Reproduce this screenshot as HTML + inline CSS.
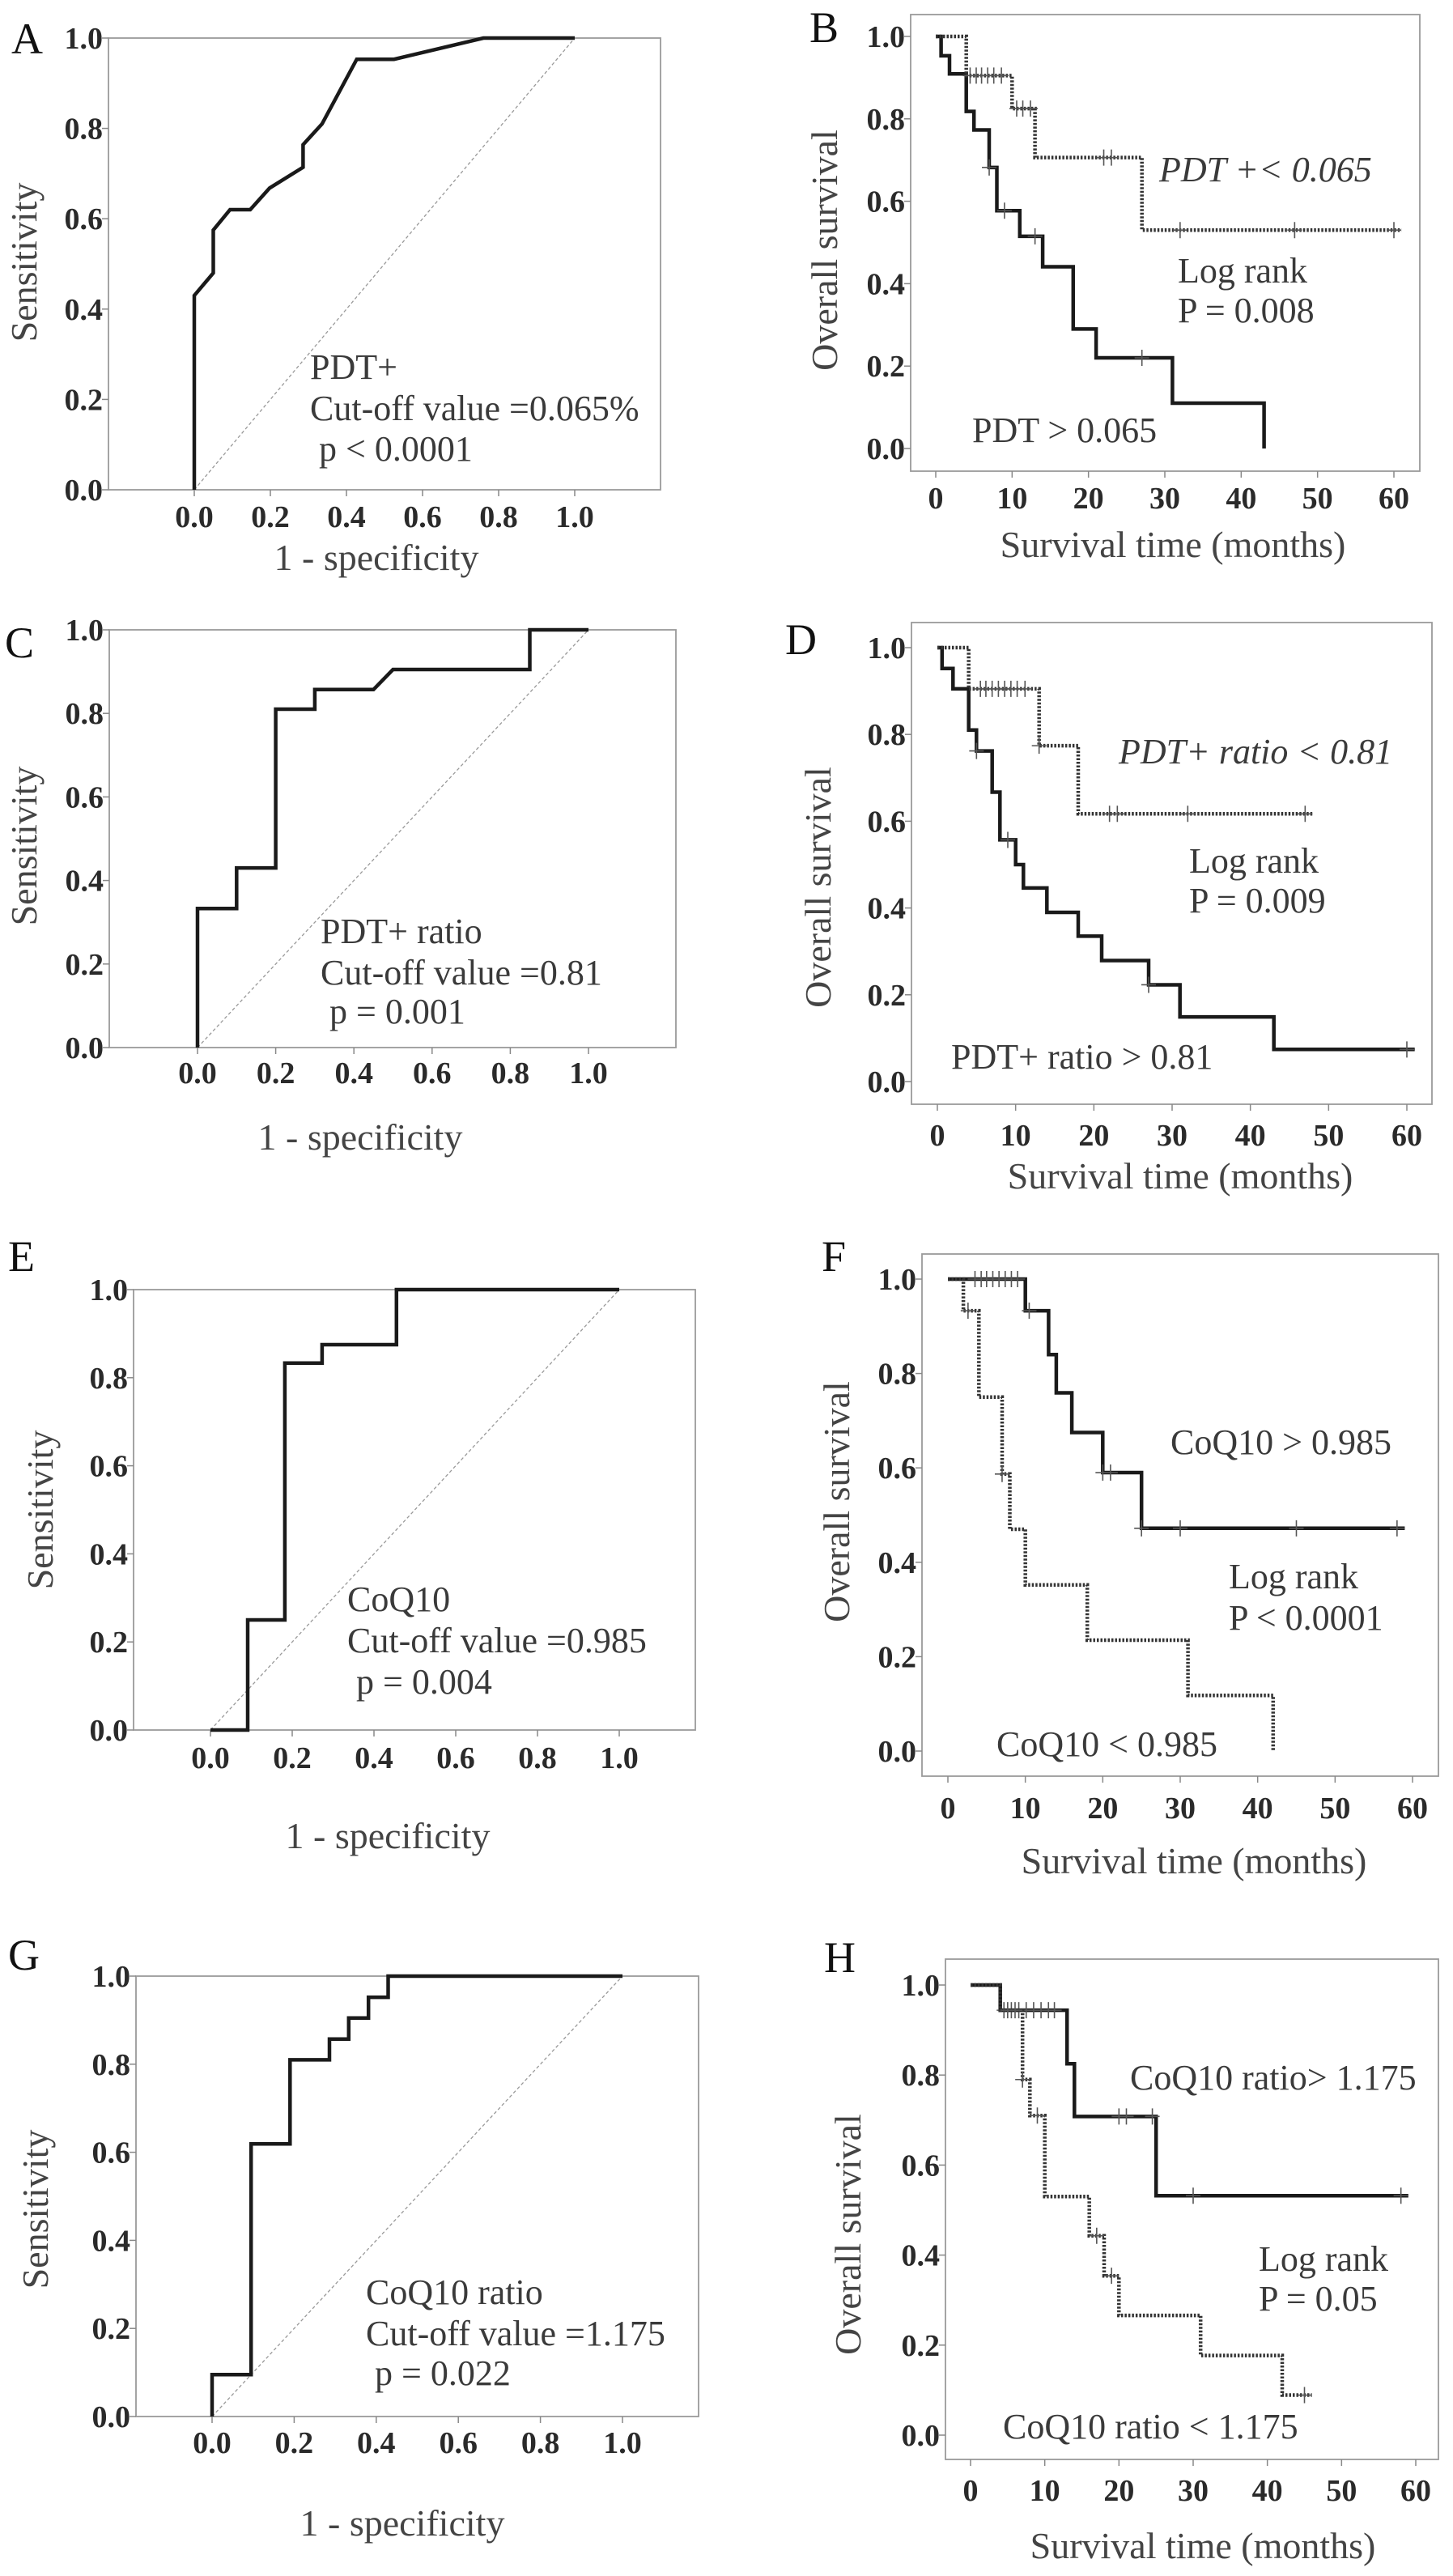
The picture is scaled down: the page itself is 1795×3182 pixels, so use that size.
<!DOCTYPE html>
<html><head><meta charset="utf-8">
<style>
html,body{margin:0;padding:0;background:#fff;}
svg{display:block;}
.tick{font-family:"Liberation Serif",serif;font-weight:bold;font-size:38px;fill:#2a2a2a;}
.ttl{font-family:"Liberation Serif",serif;font-size:46px;fill:#444;}
.ann{font-family:"Liberation Serif",serif;font-size:44px;fill:#3a3a3a;white-space:pre;}
.let{font-family:"Liberation Serif",serif;font-size:54px;fill:#111;}
</style></head>
<body>
<svg id="fig" xmlns="http://www.w3.org/2000/svg" width="1795" height="3182" viewBox="0 0 1795 3182" xml:space="preserve"></svg>
<script>
// ---------- ROC data (1 - specificity, sensitivity) ----------
const rocAX = [0,0,0.05,0.05,0.094,0.147,0.198,0.286,0.286,0.336,0.427,0.525,0.76,1];
const rocAY = [0,0.43,0.48,0.575,0.62,0.62,0.668,0.714,0.764,0.81,0.953,0.953,1,1];
const rocCX = [0,0,0.1,0.1,0.2,0.2,0.3,0.3,0.45,0.5,0.85,0.85,1];
const rocCY = [0,0.333,0.333,0.43,0.43,0.81,0.81,0.857,0.857,0.905,0.905,1,1];
const rocEX = [0,0.091,0.091,0.182,0.182,0.273,0.273,0.455,0.455,1];
const rocEY = [0,0,0.25,0.25,0.833,0.833,0.875,0.875,1,1];
const rocGX = [0,0,0.095,0.095,0.19,0.19,0.286,0.286,0.333,0.333,0.381,0.381,0.429,0.429,1];
const rocGY = [0,0.095,0.095,0.619,0.619,0.81,0.81,0.857,0.857,0.905,0.905,0.952,0.952,1,1];
const rocTicks = ["0.0","0.2","0.4","0.6","0.8","1.0"];
const kmXTicks = ["0","10","20","30","40","50","60"];
// ---------- Kaplan-Meier data: event times, survival after event, censor times, end ----------
const kmBSolidT = [0.7,1.8,4,5,7,8,11,14,18,21,31,43];
const kmBSolidS = [0.953,0.909,0.818,0.773,0.682,0.577,0.515,0.441,0.29,0.22,0.11,0];
const kmBSolidC = [7,9,13,27];
const kmBSolidEnd = 43;
const kmBDotT = [4,10,13,27];
const kmBDotS = [0.905,0.825,0.706,0.53];
const kmBDotC = [4.5,5.3,6,6.8,7.6,8.6,10.6,11.4,12.4,22,23,32,47,60];
const kmBDotEnd = 61;

const kmDSolidT = [0.6,2,4,5,7,8,10,11,14,18,21,27,31,43];
const kmDSolidS = [0.952,0.905,0.81,0.762,0.667,0.557,0.5,0.446,0.39,0.335,0.279,0.223,0.149,0.074];
const kmDSolidC = [5,9,27,60];
const kmDSolidEnd = 61;
const kmDDotT = [4,13,18];
const kmDDotS = [0.905,0.774,0.617];
const kmDDotC = [5.5,6.2,7,7.8,8.6,9.4,10.2,11.2,13,22,23,32,47];
const kmDDotEnd = 48;

const kmFSolidT = [10,13,14,16,20,25];
const kmFSolidS = [0.933,0.84,0.759,0.675,0.59,0.472];
const kmFSolidC = [3.5,4.3,5,5.8,6.6,7.4,8.2,9,10.5,20,21,25,30,45,58];
const kmFSolidEnd = 59;
const kmFDotT = [2,4,7,8,10,18,31,42];
const kmFDotS = [0.933,0.75,0.587,0.47,0.352,0.235,0.118,0];
const kmFDotC = [2.6,7];
const kmFDotEnd = 42;

const kmHSolidT = [4,13,14,25];
const kmHSolidS = [0.944,0.825,0.708,0.532];
const kmHSolidC = [4.5,5.5,6.5,7.5,8.5,9.5,10.5,11.3,20,21,24.5,30,58];
const kmHSolidEnd = 59;
const kmHDotT = [4,7,8,10,16,18,20,31,42];
const kmHDotS = [0.944,0.79,0.71,0.53,0.443,0.354,0.266,0.177,0.089];
const kmHDotC = [5,6,7,9,17,19,45];
const kmHDotEnd = 46;

const NS = "http://www.w3.org/2000/svg";
const svg = document.getElementById("fig");
function mk(tag, attrs, parent){
  const e = document.createElementNS(NS, tag);
  for (const k in attrs) e.setAttribute(k, attrs[k]);
  (parent||svg).appendChild(e);
  return e;
}
function txt(s, x, y, cls, parent, anchor, rot){
  const t = mk("text", {x:x, y:y, class:cls, "text-anchor":anchor||"start"}, parent);
  if (rot) t.setAttribute("transform", "rotate(-90 "+x+" "+y+")");
  t.textContent = s;
  return t;
}

function panelBase(p){
  const g = mk("g", {});
  
  
  const L = txt(p.id, p.letter[0], p.letter[1], "let", g);
  
  
  const b = p.box;
  const r = mk("rect", {x:b[0], y:b[1], width:b[2]-b[0], height:b[3]-b[1], fill:"none", stroke:"#9a9a9a", "stroke-width":1.8}, g);
  
  
  const sx = v => p.x0 + (v - p.xmin) / (p.xmax - p.xmin) * (p.x1 - p.x0);
  const sy = v => p.y0 + v * (p.y1 - p.y0);
  for (let i = 0; i < rocTicks.length; i++){
    const v = i * 0.2, y = sy(v);
    const tk = mk("line", {x1:b[0]-8, x2:b[0], y1:y, y2:y, stroke:"#888", "stroke-width":1.5}, g);
    
    
    const tl = txt(rocTicks[i], b[0]-7, y+13, "tick", g, "end");
    
    
  }
  for (let i = 0; i < p.xt.length; i++){
    const v = p.xmin + i * (p.xmax - p.xmin) / (p.xt.length - 1), x = sx(v);
    const tk = mk("line", {x1:x, x2:x, y1:b[3], y2:b[3]+8, stroke:"#888", "stroke-width":1.5}, g);
    
    
    const tl = txt(p.xt[i], x, p.xtY+13, "tick", g, "middle");
    
    
  }
  const xt = txt(p.xtitle, p.xtitlePos[0], p.xtitlePos[1]+15, "ttl", g, "middle");
  
  
  const yt = txt(p.ytitle, p.ytitlePos[0]+16, p.ytitlePos[1], "ttl", g, "middle", true);
  
  
  for (const a of p.ann){
    const t = txt(a[0], a[1], a[2], "ann", g);
    if (a[3]) t.setAttribute("font-style", "italic");
    
    
  }
  return {g, sx, sy};
}

function rocPanel(p, xs, ys){
  const {g, sx, sy} = panelBase(p);
  const d = mk("line", {x1:sx(0), y1:sy(0), x2:sx(1), y2:sy(1), stroke:"#999", "stroke-width":1.3, "stroke-dasharray":"4,3"}, g);
  
  
  let pts = xs.map((x,i) => sx(x).toFixed(1)+","+sy(ys[i]).toFixed(1)).join(" ");
  const c = mk("polyline", {points:pts, fill:"none", stroke:"#1a1a1a", "stroke-width":4.5, "stroke-linejoin":"miter"}, g);
  
  
}

function stepPts(T, S, end, sx, sy){
  let pts = [[sx(0), sy(1)]];
  let cur = 1;
  for (let i = 0; i < T.length; i++){
    pts.push([sx(T[i]), sy(cur)]);
    cur = S[i];
    pts.push([sx(T[i]), sy(cur)]);
  }
  if (end > T[T.length-1]) pts.push([sx(end), sy(cur)]);
  return pts.map(q => q[0].toFixed(1)+","+q[1].toFixed(1)).join(" ");
}
function survAt(T, S, t){
  let s = 1;
  for (let i = 0; i < T.length; i++) if (T[i] <= t) s = S[i];
  return s;
}
function kmSeries(g, sx, sy, T, S, C, end, dotted, name){
  const attrs = {points:stepPts(T,S,end,sx,sy), fill:"none", stroke:"#1a1a1a", "stroke-width":4.5};
  if (dotted){ attrs["stroke-dasharray"] = "2.5,2"; attrs.stroke = "#333"; }
  const l = mk("polyline", attrs, g);
  
  
  for (const c of C){
    const x = sx(c), y = sy(survAt(T,S,c));
    const m = mk("path", {d:"M"+x+","+(y-10)+"V"+(y+10)+"M"+(x-9)+","+y+"H"+(x+9), stroke:"#555", "stroke-width":1.6, fill:"none"}, g);
    
    
  }
}
function kmPanel(p, series){
  const {g, sx, sy} = panelBase(p);
  for (const s of series) kmSeries(g, sx, sy, s[0], s[1], s[2], s[3], s[4], s[5]);
}

const ROC_T = "1 - specificity", KM_T = "Survival time (months)";
rocPanel({id:"A", letter:[14,66], box:[134,47,816,605], x0:240, x1:710, xmin:0, xmax:1, y0:605, y1:47,
  xt:rocTicks, xtY:638, xtitle:ROC_T, xtitlePos:[465,689], ytitle:"Sensitivity", ytitlePos:[29,324],
  ann:[["PDT+",383,468],["Cut-off value =0.065%",383,519],[" p < 0.0001",383,569]]}, rocAX, rocAY);
kmPanel({id:"B", letter:[1000,52], box:[1125,18,1754,582], x0:1156, x1:1722, xmin:0, xmax:60, y0:554, y1:45,
  xt:kmXTicks, xtY:615, xtitle:KM_T, xtitlePos:[1449,673], ytitle:"Overall survival", ytitlePos:[1018,309],
  ann:[["PDT +< 0.065",1432,224,true],["Log rank",1455,349],["P = 0.008",1455,398],["PDT > 0.065",1201,546]]},
  [[kmBSolidT,kmBSolidS,kmBSolidC,kmBSolidEnd,false,"km-high-pdt"],[kmBDotT,kmBDotS,kmBDotC,kmBDotEnd,true,"km-low-pdt"]]);
rocPanel({id:"C", letter:[6,812], box:[135,778,835,1294], x0:244, x1:727, xmin:0, xmax:1, y0:1294, y1:778,
  xt:rocTicks, xtY:1325, xtitle:ROC_T, xtitlePos:[445,1405], ytitle:"Sensitivity", ytitlePos:[29,1045],
  ann:[["PDT+ ratio",396,1165],["Cut-off value =0.81",396,1216],[" p = 0.001",396,1264]]}, rocCX, rocCY);
kmPanel({id:"D", letter:[970,808], box:[1126,769,1769,1364], x0:1158, x1:1738, xmin:0, xmax:60, y0:1336, y1:800,
  xt:kmXTicks, xtY:1402, xtitle:KM_T, xtitlePos:[1458,1453], ytitle:"Overall survival", ytitlePos:[1010,1096],
  ann:[["PDT+ ratio < 0.81",1382,943,true],["Log rank",1469,1078],["P = 0.009",1469,1127],["PDT+ ratio > 0.81",1175,1320]]},
  [[kmDSolidT,kmDSolidS,kmDSolidC,kmDSolidEnd,false,"km-high-ratio"],[kmDDotT,kmDDotS,kmDDotC,kmDDotEnd,true,"km-low-ratio"]]);
rocPanel({id:"E", letter:[10,1570], box:[165,1593,859,2137], x0:260, x1:765, xmin:0, xmax:1, y0:2137, y1:1593,
  xt:rocTicks, xtY:2171, xtitle:ROC_T, xtitlePos:[479,2268], ytitle:"Sensitivity", ytitlePos:[49,1865],
  ann:[["CoQ10",429,1990],["Cut-off value =0.985",429,2041],[" p = 0.004",429,2092]]}, rocEX, rocEY);
kmPanel({id:"F", letter:[1015,1570], box:[1139,1549,1777,2194], x0:1171, x1:1745, xmin:0, xmax:60, y0:2163, y1:1580,
  xt:kmXTicks, xtY:2233, xtitle:KM_T, xtitlePos:[1475,2299], ytitle:"Overall survival", ytitlePos:[1033,1855],
  ann:[["CoQ10 > 0.985",1446,1796],["Log rank",1518,1962],["P < 0.0001",1518,2013],["CoQ10 < 0.985",1231,2169]]},
  [[kmFSolidT,kmFSolidS,kmFSolidC,kmFSolidEnd,false,"km-high-coq10"],[kmFDotT,kmFDotS,kmFDotC,kmFDotEnd,true,"km-low-coq10"]]);
rocPanel({id:"G", letter:[10,2433], box:[168,2441,863,2985], x0:262, x1:769, xmin:0, xmax:1, y0:2985, y1:2441,
  xt:rocTicks, xtY:3017, xtitle:ROC_T, xtitlePos:[497,3117], ytitle:"Sensitivity", ytitlePos:[43,2729],
  ann:[["CoQ10 ratio",452,2846],["Cut-off value =1.175",452,2897],[" p = 0.022",452,2946]]}, rocGX, rocGY);
kmPanel({id:"H", letter:[1018,2436], box:[1168,2420,1777,3038], x0:1199, x1:1749, xmin:0, xmax:60, y0:3008, y1:2452,
  xt:kmXTicks, xtY:3076, xtitle:KM_T, xtitlePos:[1486,3145], ytitle:"Overall survival", ytitlePos:[1047,2760],
  ann:[["CoQ10 ratio> 1.175",1396,2581],["Log rank",1555,2805],["P = 0.05",1555,2854],["CoQ10 ratio < 1.175",1239,3012]]},
  [[kmHSolidT,kmHSolidS,kmHSolidC,kmHSolidEnd,false,"km-high-coq10-ratio"],[kmHDotT,kmHDotS,kmHDotC,kmHDotEnd,true,"km-low-coq10-ratio"]]);
</script>
</body></html>
